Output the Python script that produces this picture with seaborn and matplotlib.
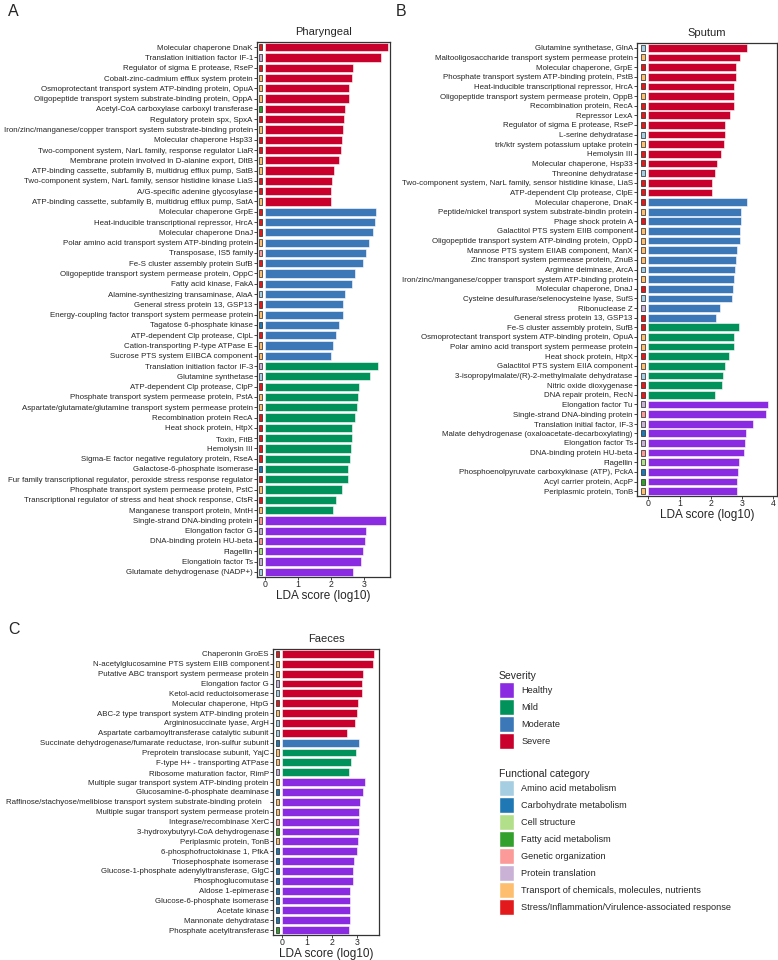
import pandas as pd
import numpy as np
import matplotlib
matplotlib.use('Agg')
import matplotlib.pyplot as plt
from matplotlib.patches import Patch
import seaborn as sns

sns.set_theme(style='white')
plt.rcParams['font.family'] = ['Liberation Sans', 'DejaVu Sans']

# ---- colours ----
severity_order = ['Healthy', 'Mild', 'Moderate', 'Severe']
severity_colors = ['#8A2BE2', '#00925A', '#3C78B8', '#C8002B']
category_order = ['Amino acid metabolism', 'Carbohydrate metabolism', 'Cell structure',
                  'Fatty acid metabolism', 'Genetic organization', 'Protein translation',
                  'Transport of chemicals, molecules, nutrients',
                  'Stress/Inflammation/Virulence-associated response']
category_colors = ['#A6CEE3', '#1F78B4', '#B2DF8A', '#33A02C', '#FB9A99', '#CAB2D6',
                   '#FDBF6F', '#E31A1C']
cat_codes = dict(zip(['AA', 'CH', 'CS', 'FA', 'GO', 'PT', 'TR', 'ST'], category_order))

# ---- Pharyngeal ----
pha_labels = [
    'Molecular chaperone DnaK', 'Translation initiation factor IF-1',
    'Regulator of sigma E protease, RseP', 'Cobalt-zinc-cadmium efflux system protein',
    'Osmoprotectant transport system ATP-binding protein, OpuA',
    'Oligopeptide transport system substrate-binding protein, OppA',
    'Acetyl-CoA carboxylase carboxyl transferase', 'Regulatory protein spx, SpxA',
    'Iron/zinc/manganese/copper transport system substrate-binding protein',
    'Molecular chaperone Hsp33', 'Two-component system, NarL family, response regulator LiaR',
    'Membrane protein involved in D-alanine export, DltB',
    'ATP-binding cassette, subfamily B, multidrug efflux pump, SatB',
    'Two-component system, NarL family, sensor histidine kinase LiaS',
    'A/G-specific adenine glycosylase',
    'ATP-binding cassette, subfamily B, multidrug efflux pump, SatA',
    'Molecular chaperone GrpE', 'Heat-inducible transcriptional repressor, HrcA',
    'Molecular chaperone DnaJ', 'Polar amino acid transport system ATP-binding protein',
    'Transposase, IS5 family', 'Fe-S cluster assembly protein SufB',
    'Oligopeptide transport system permease protein, OppC', 'Fatty acid kinase, FakA',
    'Alamine-synthesizing transaminase, AlaA', 'General stress protein 13, GSP13',
    'Energy-coupling factor transport system permease protein', 'Tagatose 6-phosphate kinase',
    'ATP-dependent Clp protease, ClpL', 'Cation-transporting P-type ATPase E',
    'Sucrose PTS system EIIBCA component', 'Translation initiation factor IF-3',
    'Glutamine synthetase', 'ATP-dependent Clp protease, ClpP',
    'Phosphate transport system permease protein, PstA',
    'Aspartate/glutamate/glutamine transport system permease protein',
    'Recombination protein RecA', 'Heat shock protein, HtpX', 'Toxin, FitB', 'Hemolysin III',
    'Sigma-E factor negative regulatory protein, RseA', 'Galactose-6-phosphate isomerase',
    'Fur family transcriptional regulator, peroxide stress response regulator',
    'Phosphate transport system permease protein, PstC',
    'Transcriptional regulator of stress and heat shock response, CtsR',
    'Manganese transport protein, MntH', 'Single-strand DNA-binding protein',
    'Elongation factor G', 'DNA-binding protein HU-beta', 'Flagellin',
    'Elongatioin factor Ts', 'Glutamate dehydrogenase (NADP+)']
pha_scores = [3.72, 3.51, 2.68, 2.63, 2.55, 2.54, 2.41, 2.40, 2.37, 2.34, 2.31, 2.25, 2.10,
              2.03, 2.01, 1.99,
              3.37, 3.33, 3.26, 3.15, 3.07, 2.98, 2.74, 2.65, 2.43, 2.35, 2.35, 2.24, 2.16,
              2.06, 2.00,
              3.42, 3.18, 2.86, 2.83, 2.78, 2.73, 2.65, 2.63, 2.62, 2.58, 2.52, 2.50, 2.34,
              2.16, 2.05,
              3.67, 3.05, 3.04, 2.97, 2.90, 2.67]
pha_severity = ['Severe'] * 16 + ['Moderate'] * 15 + ['Mild'] * 15 + ['Healthy'] * 6
pha_category = ['ST', 'PT', 'ST', 'TR', 'TR', 'TR', 'FA', 'ST', 'TR', 'ST', 'ST', 'TR', 'TR',
                'ST', 'ST', 'TR',
                'ST', 'ST', 'ST', 'TR', 'GO', 'ST', 'TR', 'ST', 'AA', 'ST', 'TR', 'CH', 'ST',
                'TR', 'TR',
                'PT', 'AA', 'ST', 'TR', 'TR', 'ST', 'ST', 'ST', 'ST', 'ST', 'CH', 'ST', 'TR',
                'ST', 'TR',
                'GO', 'PT', 'GO', 'CS', 'PT', 'AA']

# ---- Sputum ----
spu_labels = [
    'Glutamine synthetase, GlnA', 'Maltooligosaccharide transport system permease protein',
    'Molecular chaperone, GrpE', 'Phosphate transport system ATP-binding protein, PstB',
    'Heat-inducible transcriptional repressor, HrcA',
    'Oligopeptide transport system permease protein, OppB', 'Recombination protein, RecA',
    'Repressor LexA', 'Regulator of sigma E protease, RseP', 'L-serine dehydratase',
    'trk/ktr system potassium uptake protein', 'Hemolysin III', 'Molecular chaperone, Hsp33',
    'Threonine dehydratase', 'Two-component system, NarL family, sensor histidine kinase, LiaS',
    'ATP-dependent Clp protease, ClpE', 'Molecular chaperone, DnaK',
    'Peptide/nickel transport system substrate-bindin protein', 'Phage shock protein A',
    'Galactitol PTS system EIIB component', 'Oligopeptide transport system ATP-binding protein, OppD',
    'Mannose PTS system EIIAB component, ManX', 'Zinc transport system permease protein, ZnuB',
    'Arginine deiminase, ArcA', 'Iron/zinc/manganese/copper transport system ATP-binding protein',
    'Molecular chaperone, DnaJ', 'Cysteine desulfurase/selenocysteine lyase, SufS',
    'Ribonuclease Z', 'General stress protein 13, GSP13', 'Fe-S cluster assembly protein, SufB',
    'Osmoprotectant transport system ATP-binding protein, OpuA',
    'Polar amino acid transport system permease protein', 'Heat shock protein, HtpX',
    'Galactitol PTS system EIIA component', '3-isopropylmalate/(R)-2-methylmalate dehydratase',
    'Nitric oxide dioxygenase', 'DNA repair protein, RecN', 'Elongation factor Tu',
    'Single-strand DNA-binding protein', 'Translation initial factor, IF-3',
    'Malate dehydrogenase (oxaloacetate-decarboxylating)', 'Elongation factor Ts',
    'DNA-binding protein HU-beta', 'Flagellin', 'Phosphoenolpyruvate carboxykinase (ATP), PckA',
    'Acyl carrier protein, AcpP', 'Periplasmic protein, TonB']
spu_scores = [3.15, 2.95, 2.80, 2.80, 2.75, 2.74, 2.74, 2.61, 2.47, 2.45, 2.41, 2.32, 2.21,
              2.15, 2.04, 2.04,
              3.16, 2.97, 2.97, 2.95, 2.94, 2.85, 2.80, 2.77, 2.73, 2.71, 2.69, 2.31, 2.17,
              2.90, 2.74, 2.74, 2.57, 2.47, 2.40, 2.36, 2.14,
              3.84, 3.77, 3.34, 3.14, 3.09, 3.05, 2.90, 2.88, 2.84, 2.84]
spu_severity = ['Severe'] * 16 + ['Moderate'] * 13 + ['Mild'] * 8 + ['Healthy'] * 10
spu_category = ['AA', 'TR', 'ST', 'TR', 'ST', 'TR', 'ST', 'ST', 'ST', 'AA', 'TR', 'ST', 'ST',
                'AA', 'ST', 'ST',
                'ST', 'TR', 'ST', 'TR', 'TR', 'TR', 'TR', 'AA', 'TR', 'ST', 'AA', 'PT', 'ST',
                'ST', 'TR', 'TR', 'ST', 'TR', 'AA', 'ST', 'ST',
                'PT', 'GO', 'PT', 'CH', 'PT', 'GO', 'CS', 'CH', 'FA', 'TR']

# ---- Faeces ----
fae_labels = [
    'Chaperonin GroES', 'N-acetylglucosamine PTS system EIIB component',
    'Putative ABC transport system permease protein', 'Elongation factor G',
    'Ketol-acid reductoisomerase', 'Molecular chaperone, HtpG',
    'ABC-2 type transport system ATP-binding protein', 'Argininosuccinate lyase, ArgH',
    'Aspartate carbamoyltransferase catalytic subunit',
    'Succinate dehydrogenase/fumarate reductase, iron-sulfur subunit',
    'Preprotein translocase subunit, YajC', 'F-type H+ - transporting ATPase',
    'Ribosome maturation factor, RimP', 'Multiple sugar transport system ATP-binding protein',
    'Glucosamine-6-phosphate deaminase',
    'Raffinose/stachyose/melibiose transport system substrate-binding protein   ',
    'Multiple sugar transport system permease protein', 'Integrase/recombinase XerC',
    '3-hydroxybutyryl-CoA dehydrogenase', 'Periplasmic protein, TonB',
    '6-phosphofructokinase 1, PfkA', 'Triosephosphate isomerase',
    'Glucose-1-phosphate adenylyltransferase, GlgC', 'Phosphoglucomutase',
    'Aldose 1-epimerase', 'Glucose-6-phosphate isomerase', 'Acetate kinase',
    'Mannonate dehydratase', 'Phosphate acetyltransferase']
fae_scores = [3.68, 3.63, 3.22, 3.20, 3.19, 3.05, 2.99, 2.91, 2.59,
              3.08,
              2.97, 2.75, 2.68,
              3.33, 3.24, 3.12, 3.09, 3.07, 3.07, 3.04, 3.01, 2.89, 2.84, 2.83, 2.73, 2.73,
              2.73, 2.72, 2.67]
fae_severity = ['Severe'] * 9 + ['Moderate'] * 1 + ['Mild'] * 3 + ['Healthy'] * 16
fae_category = ['ST', 'TR', 'TR', 'PT', 'AA', 'ST', 'TR', 'AA', 'AA',
                'CH',
                'TR', 'TR', 'PT',
                'TR', 'CH', 'TR', 'TR', 'GO', 'FA', 'TR', 'CH', 'CH', 'CH', 'CH', 'CH', 'CH',
                'CH', 'CH', 'FA']

sev_pal = dict(zip(severity_order, severity_colors))
cat_pal = dict(zip(category_order, category_colors))

W, H = 778, 960
fig = plt.figure(figsize=(W / 100, H / 100), dpi=100)


def px_axes(x0, y0, x1, y1):
    return fig.add_axes([x0 / W, 1 - y1 / H, (x1 - x0) / W, (y1 - y0) / H])


def lda_panel(ax, labels, scores, severity, category, title, xlim, xticks, sq_left, sq_w):
    df = pd.DataFrame({'feature': labels, 'score': scores, 'severity': severity,
                       'category': [cat_codes[c] for c in category]})
    sns.barplot(data=df, x='score', y='feature', hue='severity', palette=sev_pal,
                order=labels, dodge=False, width=0.8, legend=False, saturation=1,
                edgecolor='white', linewidth=0.4, ax=ax)
    # small functional-category squares next to the axis
    ax.barh(np.arange(len(labels)), sq_w, left=sq_left, height=0.62,
            color=[cat_pal[c] for c in df['category']], edgecolor='#222222', linewidth=0.5)
    ax.set_xlim(*xlim)
    ax.set_ylim(len(labels) - 0.5, -0.5)
    ax.set_xticks(xticks)
    ax.set_ylabel('')
    ax.set_xlabel('LDA score (log10)', fontsize=8.5, labelpad=0.5)
    ax.set_title(title, fontsize=8, pad=5)
    ax.tick_params(axis='y', labelsize=5.7, length=2, width=0.6, pad=1, left=True)
    ax.tick_params(axis='x', labelsize=6.3, length=2, width=0.6, pad=0.5, bottom=True)
    for s in ax.spines.values():
        s.set_color('#333333')
        s.set_linewidth(0.9)


axA = px_axes(257, 42, 390, 577)
lda_panel(axA, pha_labels, pha_scores, pha_severity, pha_category, 'Pharyngeal',
          (-0.25, 3.79), [0, 1, 2, 3], -0.2, 0.11)
axB = px_axes(637, 43, 777, 496)
lda_panel(axB, spu_labels, spu_scores, spu_severity, spu_category, 'Sputum',
          (-0.36, 4.12), [0, 1, 2, 3, 4], -0.22, 0.12)
axC = px_axes(273, 649, 379, 935)
lda_panel(axC, fae_labels, fae_scores, fae_severity, fae_category, 'Faeces',
          (-0.36, 3.88), [0, 1, 2, 3], -0.26, 0.13)

for letter, (x, y) in zip('ABC', [(8, 4), (396, 4), (8, 622)]):
    fig.text(x / W, 1 - y / H, letter, fontsize=11.5, va='top', ha='left')

# legends
sev_handles = [Patch(facecolor=c, edgecolor='white', label=l)
               for l, c in zip(severity_order, severity_colors)]
cat_handles = [Patch(facecolor=c, edgecolor='white', label=l)
               for l, c in zip(category_order, category_colors)]
leg_kw = dict(loc='upper left', frameon=False, fontsize=6.55, title_fontsize=7.5,
              handlelength=1.7, handleheight=2.35, labelspacing=0.1, handletextpad=0.75,
              borderpad=0, borderaxespad=0, alignment='left')
fig.legend(handles=sev_handles, title='Severity',
           bbox_to_anchor=(499 / W, 1 - 671 / H), **leg_kw)
fig.legend(handles=cat_handles, title='Functional category',
           bbox_to_anchor=(499 / W, 1 - 769 / H), **leg_kw)

fig.savefig('out.png', dpi=100)
